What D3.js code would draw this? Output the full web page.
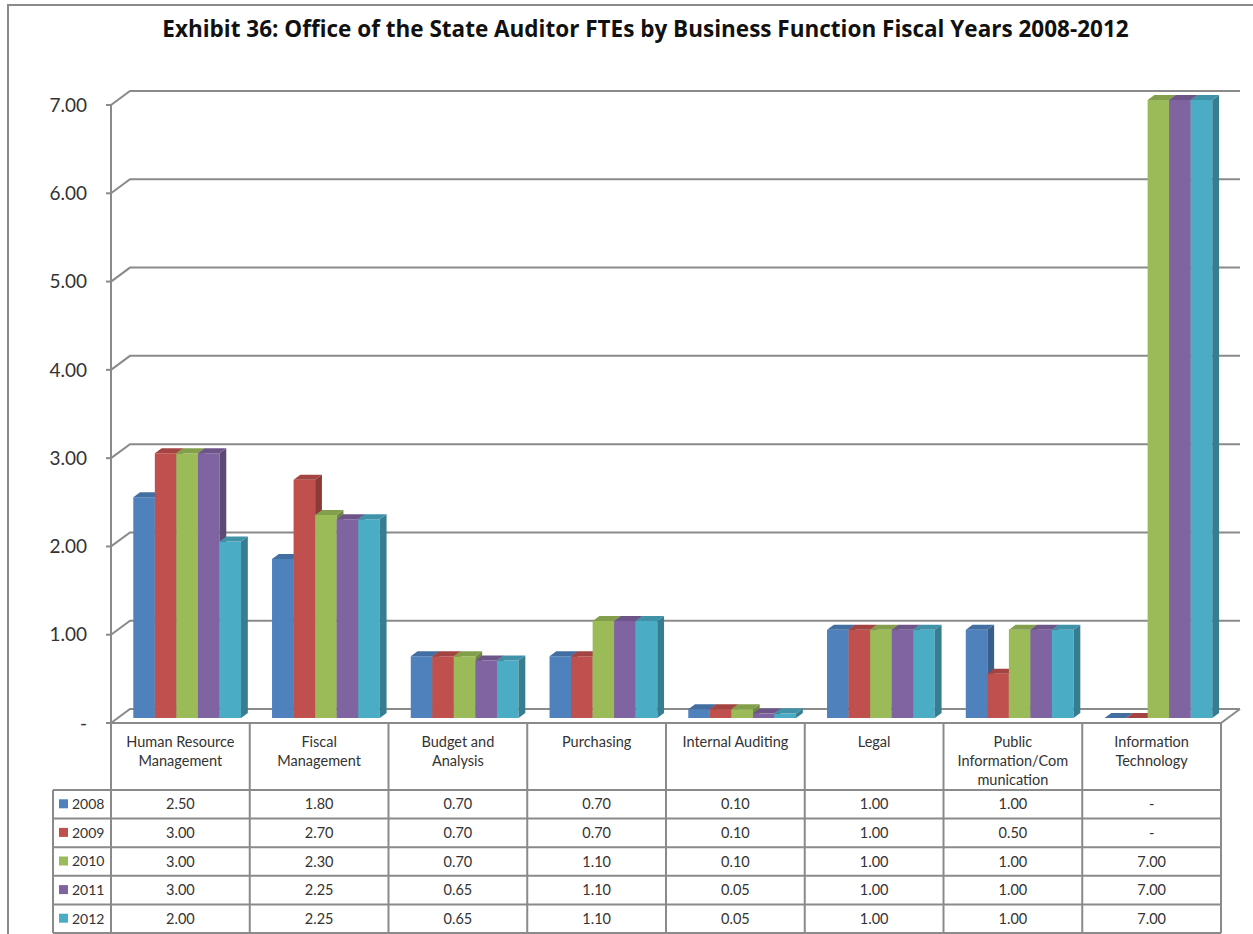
<!DOCTYPE html>
<html>
<head>
<meta charset="utf-8">
<script src="https://cdn.jsdelivr.net/npm/d3@7"></script>
<style>
  html, body { margin: 0; padding: 0; background: #fff; }
  svg { display: block; }
  text { font-family: Lato, "Open Sans", sans-serif; }
  text.chart-title { font-family: "Open Sans", sans-serif; font-weight: bold; }
</style>
</head>
<body>
<svg id="chart" width="1253" height="934"></svg>
<script>
// FTEs by business function, fiscal years 2008-2012
const categories = [
  "Human Resource Management", "Fiscal Management", "Budget and Analysis", "Purchasing",
  "Internal Auditing", "Legal", "Public Information/Communication", "Information Technology"
];
const categoryLines = [
  ["Human Resource", "Management"], ["Fiscal", "Management"], ["Budget and", "Analysis"],
  ["Purchasing"], ["Internal Auditing"], ["Legal"],
  ["Public", "Information/Com", "munication"], ["Information", "Technology"]
];
const years = ["2008", "2009", "2010", "2011", "2012"];
const fte2008 = [2.50, 1.80, 0.70, 0.70, 0.10, 1.00, 1.00, 0.00];
const fte2009 = [3.00, 2.70, 0.70, 0.70, 0.10, 1.00, 0.50, 0.00];
const fte2010 = [3.00, 2.30, 0.70, 1.10, 0.10, 1.00, 1.00, 7.00];
const fte2011 = [3.00, 2.25, 0.65, 1.10, 0.05, 1.00, 1.00, 7.00];
const fte2012 = [2.00, 2.25, 0.65, 1.10, 0.05, 1.00, 1.00, 7.00];
const yTicks = [0, 1, 2, 3, 4, 5, 6, 7];
const seriesColors = ["#4F81BD", "#C0504D", "#9BBB59", "#8064A2", "#4BACC6"];
const titleText = "Exhibit 36: Office of the State Auditor FTEs by Business Function Fiscal Years 2008-2012";

const series = years.map((yr, i) => ({
  year: yr,
  color: seriesColors[i],
  values: [fte2008, fte2009, fte2010, fte2011, fte2012][i]
}));

// layout
const plotLeft = 111, plotRight = 1221, floorY = 723, topY = 105;
const depthDX = 19, depthDY = -14;          // offset of the back wall from the front plane
const zFront = 0.357, zBack = 0.714;        // depth span occupied by the columns
const legendLeft = 53, headerBottom = 790, tableBottom = 933;
const lineColor = "#8a8a8a";
const textColor = "#333";

const svg = d3.select("#chart");

const x = d3.scaleBand().domain(categories).range([plotLeft, plotRight]);
const bw = x.bandwidth();
const gapSide = bw * 0.1117;
const xIn = d3.scaleBand().domain(years).range([gapSide, bw - gapSide]);
const y = d3.scaleLinear().domain([0, 7]).range([floorY, topY]);

// project (x in front plane, value, depth 0..1) to screen
const P = (px, v, z) => [px + depthDX * z, y(v) + depthDY * z];
const poly = pts => "M" + pts.map(p => p.join(",")).join("L") + "Z";
const fmt = v => v === 0 ? "-" : d3.format(".2f")(v);

// outer chart border
svg.append("rect")
  .attr("x", 8).attr("y", 5).attr("width", 1300).attr("height", 1000)
  .attr("fill", "none").attr("stroke", lineColor).attr("stroke-width", 2);

// title
svg.append("text")
  .attr("class", "chart-title")
  .attr("x", 645.5).attr("y", 37)
  .attr("text-anchor", "middle")
  .attr("font-size", 22.5)
  .attr("fill", "#111")
  .text(titleText);

// back-wall gridlines with side-wall diagonals
const grid = svg.append("g").attr("fill", "none").attr("stroke", lineColor).attr("stroke-width", 2);
yTicks.forEach(t => {
  const a = P(plotLeft, t, 0), b = P(plotLeft, t, 1), c = P(plotRight, t, 1);
  grid.append("path").attr("d", `M${a}L${b}L${c}`);
});
// floor front and right edges
grid.append("path").attr("d", `M${P(plotLeft, 0, 0)}L${P(plotRight, 0, 0)}L${P(plotRight, 0, 1)}`);

// value axis line and ticks
svg.append("line")
  .attr("x1", plotLeft).attr("x2", plotLeft).attr("y1", y(7)).attr("y2", floorY)
  .attr("stroke", lineColor).attr("stroke-width", 2);
const yAxis = svg.append("g");
yTicks.forEach(t => {
  yAxis.append("line")
    .attr("x1", plotLeft - 5).attr("x2", plotLeft).attr("y1", y(t)).attr("y2", y(t))
    .attr("stroke", lineColor).attr("stroke-width", 2);
  yAxis.append("text")
    .attr("x", 87).attr("y", y(t)).attr("dy", "0.35em")
    .attr("text-anchor", "end").attr("font-size", 19).attr("fill", textColor)
    .text(fmt(t));
});

// 3-D columns, painted left to right so each column hides its neighbour's side
const bars = svg.append("g");
categories.forEach((cat, ci) => {
  series.forEach(s => {
    const v = s.values[ci];
    const x0 = x(cat) + xIn(s.year), x1 = x0 + xIn.bandwidth();
    const base = d3.color(s.color);
    const g = bars.append("g");
    // front face
    g.append("path")
      .attr("d", poly([P(x0, 0, zFront), P(x1, 0, zFront), P(x1, v, zFront), P(x0, v, zFront)]))
      .attr("fill", s.color);
    // right side face
    g.append("path")
      .attr("d", poly([P(x1, 0, zFront), P(x1, 0, zBack), P(x1, v, zBack), P(x1, v, zFront)]))
      .attr("fill", base.darker(0.9));
    // top face
    g.append("path")
      .attr("d", poly([P(x0, v, zFront), P(x1, v, zFront), P(x1, v, zBack), P(x0, v, zBack)]))
      .attr("fill", base.darker(0.45));
  });
});

// data table
const table = svg.append("g");
const rowH = (tableBottom - headerBottom) / years.length;
const tl = table.append("g").attr("stroke", lineColor).attr("stroke-width", 2).attr("fill", "none");
// column borders
d3.range(categories.length + 1).forEach(i => {
  const cx = plotLeft + i * bw;
  tl.append("line").attr("x1", cx).attr("x2", cx).attr("y1", floorY).attr("y2", tableBottom);
});
// row borders
d3.range(years.length + 1).forEach(r => {
  const ry = headerBottom + r * rowH;
  tl.append("line").attr("x1", legendLeft).attr("x2", plotRight).attr("y1", ry).attr("y2", ry);
});
tl.append("line").attr("x1", legendLeft).attr("x2", legendLeft).attr("y1", headerBottom).attr("y2", tableBottom);

// category header labels
categories.forEach((cat, ci) => {
  const t = table.append("text")
    .attr("x", x(cat) + bw / 2).attr("y", 747)
    .attr("text-anchor", "middle").attr("font-size", 14.5).attr("fill", textColor);
  categoryLines[ci].forEach((ln, li) => {
    t.append("tspan").attr("x", x(cat) + bw / 2).attr("dy", li === 0 ? 0 : 19).text(ln);
  });
});

// legend keys and values
series.forEach((s, r) => {
  const cy = headerBottom + r * rowH + rowH / 2;
  table.append("rect")
    .attr("x", 59).attr("y", cy - 5).attr("width", 9).attr("height", 9)
    .attr("fill", s.color);
  table.append("text")
    .attr("x", 72).attr("y", cy).attr("dy", "0.35em")
    .attr("font-size", 14).attr("fill", textColor).text(s.year);
  s.values.forEach((v, ci) => {
    table.append("text")
      .attr("x", x(categories[ci]) + bw / 2).attr("y", cy).attr("dy", "0.35em")
      .attr("text-anchor", "middle").attr("font-size", 14.5).attr("fill", textColor)
      .text(fmt(v));
  });
});
</script>
</body>
</html>
